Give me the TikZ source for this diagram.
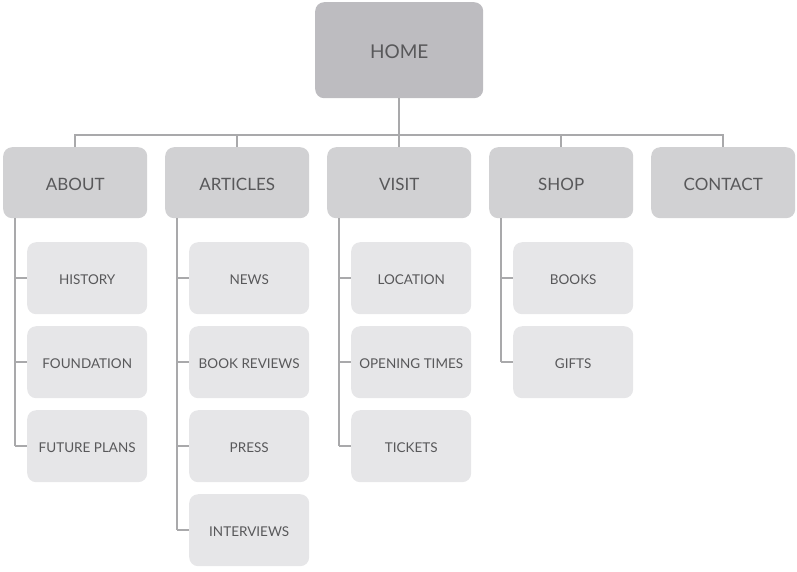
\documentclass[tikz,border=0pt]{standalone}
\usepackage{fontspec}
\setmainfont{Lato}
\definecolor{homefill}{HTML}{BDBCC0}
\definecolor{lvlone}{HTML}{D1D1D3}
\definecolor{lvltwo}{HTML}{E6E6E8}
\definecolor{linec}{HTML}{A9A9AB}
\definecolor{txt}{HTML}{58585A}
\tikzset{
  base/.style={rounded corners=9pt, inner sep=0pt, text=txt, anchor=north west, text depth=0pt},
  homebox/.style={base, fill=homefill, minimum width=168pt, minimum height=96pt, font=\fontsize{19}{22}\selectfont, text height=16.7pt},
  onebox/.style={base, fill=lvlone, minimum width=144pt, minimum height=71pt, font=\fontsize{17}{20}\selectfont, text height=15.2pt},
  twobox/.style={base, fill=lvltwo, minimum width=120pt, minimum height=72pt, font=\fontsize{13.5}{16}\selectfont, text height=11.7pt},
  conn/.style={draw=linec, line width=2.4pt}
}
\begin{document}
\begin{tikzpicture}[x=1pt,y=-1pt]
\useasboundingbox (0,0) rectangle (797,571);
\coordinate (busL) at (75,135);
\coordinate (busR) at (723,135);
\node[homebox] (home) at (315,2) {HOME};
\node[onebox] (about) at (3,147) {ABOUT};
\node[onebox] (articles) at (165,147) {ARTICLES};
\node[onebox] (visit) at (327,147) {VISIT};
\node[onebox] (shop) at (489,147) {SHOP};
\node[onebox] (contact) at (651,147) {CONTACT};
\node[twobox] (history) at (27,242) {HISTORY};
\node[twobox] (foundation) at (27,326) {FOUNDATION};
\node[twobox] (future) at (27,410) {FUTURE PLANS};
\node[twobox] (news) at (189,242) {NEWS};
\node[twobox] (reviews) at (189,326) {BOOK REVIEWS};
\node[twobox] (press) at (189,410) {PRESS};
\node[twobox] (interviews) at (189,494) {INTERVIEWS};
\node[twobox] (location) at (351,242) {LOCATION};
\node[twobox] (opening) at (351,326) {OPENING TIMES};
\node[twobox] (tickets) at (351,410) {TICKETS};
\node[twobox] (books) at (513,242) {BOOKS};
\node[twobox] (gifts) at (513,326) {GIFTS};
\draw[conn] (home.south) -- (home.south |- busL);
\draw[conn] (busL |- about.north) -- (busL) -- (busR) -- (busR |- contact.north);
\foreach \n in {articles,visit,shop}{
  \draw[conn] (\n.north) -- (\n.north |- busL);
}
\foreach \p/\last/\list in {about/future/{history,foundation,future},
                             articles/interviews/{news,reviews,press,interviews},
                             visit/tickets/{location,opening,tickets},
                             shop/gifts/{books,gifts}}{
  \coordinate (top) at ([xshift=12pt]\p.south west);
  \draw[conn] (top) -- (top |- \last.west);
  \foreach \c in \list {
    \draw[conn] (top |- \c.west) -- (\c.west);
  }
}
\end{tikzpicture}
\end{document}
